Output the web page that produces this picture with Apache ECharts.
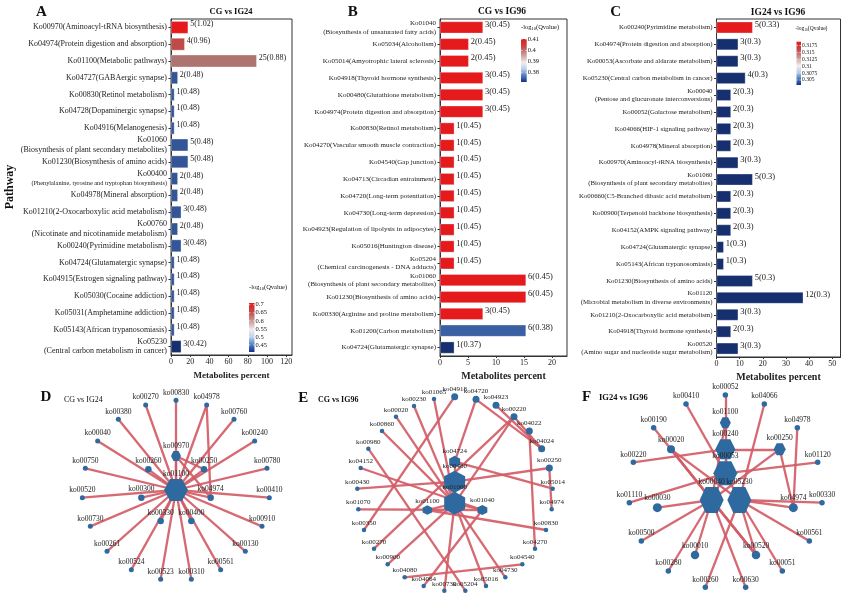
<!DOCTYPE html>
<html><head><meta charset="utf-8">
<script src="https://cdn.jsdelivr.net/npm/echarts@6/dist/echarts.min.js"></script>
<style>html,body{margin:0;padding:0;background:#fff}#c{width:852px;height:603px}</style>
</head><body><div id="c"></div><script>
// ---------------- DATA ----------------
const catA = [
 'Ko00970(Aminoacyl-tRNA biosynthesis)','Ko04974(Protein digestion and absorption)','Ko01100(Metabolic pathways)',
 'Ko04727(GABAergic synapse)','Ko00830(Retinol metabolism)','Ko04728(Dopaminergic synapse)','Ko04916(Melanogenesis)',
 'Ko01060\n(Biosynthesis of plant secondary metabolites)','Ko01230(Biosynthesis of amino acids)',
 'Ko00400\n(Phenylalanine, tyrosine and tryptophan biosynthesis)','Ko04978(Mineral absorption)',
 'Ko01210(2-Oxocarboxylic acid metabolism)','Ko00760\n(Nicotinate and nicotinamide metabolism)',
 'Ko00240(Pyrimidine metabolism)','Ko04724(Glutamatergic synapse)','Ko04915(Estrogen signaling pathway)',
 'Ko05030(Cocaine addiction)','Ko05031(Amphetamine addiction)','Ko05143(African trypanosomiasis)',
 'Ko05230\n(Central carbon metabolism in cancer)'];
const pctA = [17.86,14.29,89.29,7.14,3.57,3.57,3.57,17.86,17.86,7.14,7.14,10.71,7.14,10.71,3.57,3.57,3.57,3.57,3.57,10.71];
const cntA = [5,4,25,2,1,1,1,5,5,2,2,3,2,3,1,1,1,1,1,3];
const qA   = [1.02,0.96,0.88,0.48,0.48,0.48,0.48,0.48,0.48,0.48,0.48,0.48,0.48,0.48,0.48,0.48,0.48,0.48,0.48,0.42];

const catB = [
 'Ko01040\n(Biosynthesis of unsaturated fatty acids)','Ko05034(Alcoholism)','Ko05014(Amyotrophic lateral sclerosis)',
 'Ko04918(Thyroid hormone synthesis)','Ko00480(Glutathione metabolism)','Ko04974(Protein digestion and absorption)',
 'Ko00830(Retinol metabolism)','Ko04270(Vascular smooth muscle contraction)','Ko04540(Gap junction)',
 'Ko04713(Circadian entrainment)','Ko04720(Long-term potentiation)','Ko04730(Long-term depression)',
 'Ko04923(Regulation of lipolysis in adipocytes)','Ko05016(Huntington disease)',
 'Ko05204\n(Chemical carcinogenesis - DNA adducts)','Ko01060\n(Biosynthesis of plant secondary metabolites)',
 'Ko01230(Biosynthesis of amino acids)','Ko00330(Arginine and proline metabolism)','Ko01200(Carbon metabolism)',
 'Ko04724(Glutamatergic synapse)'];
const pctB = [7.69,5.13,5.13,7.69,7.69,7.69,2.56,2.56,2.56,2.56,2.56,2.56,2.56,2.56,2.56,15.38,15.38,7.69,15.38,2.56];
const cntB = [3,2,2,3,3,3,1,1,1,1,1,1,1,1,1,6,6,3,6,1];
const qB   = [0.45,0.45,0.45,0.45,0.45,0.45,0.45,0.45,0.45,0.45,0.45,0.45,0.45,0.45,0.45,0.45,0.45,0.45,0.38,0.37];

const catC = [
 'Ko00240(Pyrimidine metabolism)','Ko04974(Protein digestion and absorption)','Ko00053(Ascorbate and aldarate metabolism)',
 'Ko05230(Central carbon metabolism in cancer)','Ko00040\n(Pentose and glucuronate interconversions)',
 'Ko00052(Galactose metabolism)','Ko04066(HIF-1 signaling pathway)','Ko04978(Mineral absorption)',
 'Ko00970(Aminoacyl-tRNA biosynthesis)','Ko01060\n(Biosynthesis of plant secondary metabolites)',
 'Ko00660(C5-Branched dibasic acid metabolism)','Ko00900(Terpenoid backbone biosynthesis)',
 'Ko04152(AMPK signaling pathway)','Ko04724(Glutamatergic synapse)','Ko05143(African trypanosomiasis)',
 'Ko01230(Biosynthesis of amino acids)','Ko01120\n(Microbial metabolism in diverse environments)',
 'Ko01210(2-Oxocarboxylic acid metabolism)','Ko04918(Thyroid hormone synthesis)',
 'Ko00520\n(Amino sugar and nucleotide sugar metabolism)'];
const pctC = [15.63,9.38,9.38,12.5,6.25,6.25,6.25,6.25,9.38,15.63,6.25,6.25,6.25,3.13,3.13,15.63,37.5,9.38,6.25,9.38];
const cntC = [5,3,3,4,2,2,2,2,3,5,2,2,2,1,1,5,12,3,2,3];
const qC   = [0.33,0.3,0.3,0.3,0.3,0.3,0.3,0.3,0.3,0.3,0.3,0.3,0.3,0.3,0.3,0.3,0.3,0.3,0.3,0.3];

const legTicksA = ['0.7','0.65','0.6','0.55','0.5','0.45'];
const legTicksB = ['0.41','0.4','0.39','0.38'];
const legTicksC = ['0.3175','0.315','0.3125','0.31','0.3075','0.305'];

// network layouts (abstract layout units)
const layoutD = [
 ['ko00830',528,31],['ko00270',437,45],['ko04978',620,45],['ko00380',355,88],['ko00760',702,88],
 ['ko00040',293,153],['ko00240',764,153],['ko00970',528,198],['ko00750',256,235],['ko00260',445,238],
 ['ko00250',612,238],['ko00780',801,235],['ko01100',528,300],['ko00520',247,323],['ko00300',424,323],
 ['ko04974',632,323],['ko00410',808,323],['ko00730',271,409],['ko00330',482,393],['ko00400',574,393],
 ['ko00910',786,409],['ko00261',321,484],['ko00130',736,484],['ko00524',394,539],['ko00561',662,539],
 ['ko00523',482,568],['ko00310',574,568]];
const edgesD = [
 ['ko00830','ko01100'],['ko00270','ko01100'],['ko04978','ko01100'],['ko00380','ko01100'],['ko00760','ko01100'],
 ['ko00040','ko01100'],['ko00240','ko01100'],['ko00970','ko01100'],['ko00750','ko01100'],['ko00260','ko01100'],
 ['ko00250','ko01100'],['ko00780','ko01100'],['ko00520','ko01100'],['ko00300','ko01100'],['ko04974','ko01100'],
 ['ko00410','ko01100'],['ko00730','ko01100'],['ko00330','ko01100'],['ko00400','ko01100'],['ko00910','ko01100'],
 ['ko00261','ko01100'],['ko00130','ko01100'],['ko00524','ko01100'],['ko00561','ko01100'],['ko00523','ko01100'],
 ['ko00310','ko01100'],['ko04978','ko04974'],['ko00970','ko00250'],['ko00970','ko04974']];

const layoutE = [
 ['ko01065',432,27],['ko04918',494,20],['ko04720',558,28],['ko04923',618,46],['ko00230',372,48],
 ['ko00220',672,80],['ko00020',318,80],['ko04022',718,123],['ko00860',276,123],['ko04024',755,176],
 ['ko00980',235,176],['ko04724',494,215],['ko04152',212,234],['ko00250',778,234],['ko00480',494,275],
 ['ko05014',788,296],['ko00430',202,296],['ko01060',494,340],['ko01100',412,360],['ko01040',577,360],
 ['ko01070',205,358],['ko04974',785,358],['ko00350',222,420],['ko00830',768,420],['ko00270',252,476],
 ['ko04270',735,476],['ko00900',293,523],['ko04540',697,523],['ko04080',344,562],['ko04730',646,562],
 ['ko04064',401,588],['ko05016',588,588],['ko00730',463,602],['ko05204',526,602]];
const edgesE = [
 ['ko01065','ko01060'],['ko04918','ko00350'],['ko04720','ko04724'],['ko04720','ko04024'],['ko04923','ko04024'],
 ['ko00220','ko04024'],['ko00220','ko01060'],['ko00220','ko00270'],['ko04022','ko04270'],['ko00230','ko01060'],
 ['ko00020','ko01060'],['ko00860','ko01060'],['ko00980','ko05204'],['ko04152','ko01040'],['ko00430','ko00480'],
 ['ko00250','ko00480'],['ko04724','ko05014'],['ko00250','ko04974'],['ko01070','ko01040'],['ko01100','ko00830'],
 ['ko01100','ko01060'],['ko01040','ko01060'],['ko04724','ko00480'],['ko00480','ko01060'],['ko00900','ko01060'],
 ['ko04080','ko04540'],['ko04064','ko01040'],['ko05016','ko01060'],['ko04730','ko01060'],['ko00730','ko01060']];

const layoutF = [
 ['ko00052',466,15],['ko00410',348,42],['ko04066',583,42],['ko01100',466,98],['ko00190',251,113],
 ['ko04978',682,113],['ko00240',466,178],['ko00020',303,178],['ko00250',629,178],['ko00220',190,217],
 ['ko01120',743,217],['ko00053',466,250],['ko00040',425,330],['ko05230',508,330],['ko01110',178,338],
 ['ko00030',262,353],['ko04974',670,353],['ko00330',756,338],['ko00500',214,453],['ko00561',718,453],
 ['ko00010',375,495],['ko00520',558,495],['ko00280',295,543],['ko00051',637,543],['ko00260',406,592],
 ['ko00630',527,592]];
const edgesF = [
 ['ko00052','ko00053'],['ko00410','ko00053'],['ko04066','ko05230'],['ko01100','ko00040'],['ko00190','ko00520'],
 ['ko04978','ko04974'],['ko00020','ko00040'],['ko00020','ko05230'],['ko00020','ko00520'],['ko00250','ko00240'],
 ['ko00250','ko04974'],['ko00250','ko00040'],['ko00220','ko00240'],['ko01120','ko00053'],['ko01110','ko00053'],
 ['ko00030','ko00040'],['ko04974','ko05230'],['ko00330','ko05230'],['ko00500','ko00040'],['ko00561','ko05230'],
 ['ko00010','ko00040'],['ko00520','ko05230'],['ko00520','ko00040'],['ko00280','ko00040'],['ko00051','ko05230'],
 ['ko00260','ko05230'],['ko00630','ko00040'],['ko00240','ko00053'],['ko00053','ko00040'],['ko00053','ko05230']];

// ---------------- STYLE ----------------
const SERIF = "'Liberation Serif','Times New Roman',serif";
const HEX_FLAT = 'path://M0,50 L25,6.7 L75,6.7 L100,50 L75,93.3 L25,93.3 Z';
const HEX_POINT = 'path://M50,0 L93.3,25 L93.3,75 L50,100 L6.7,75 L6.7,25 Z';
const PAL = ['#16306f','#4670b5','#aac4e2','#f1e6e6','#b88580','#a86a66','#e41a1c'];
const GRAD = [[0,'#e41a1c'],[0.18,'#c44a4a'],[0.38,'#c9a09c'],[0.55,'#f3ecec'],[0.7,'#b9d0ea'],[0.86,'#4a78bd'],[1,'#14308a']];
const NODE = '#2e6a9f', EDGE = '#d25c66';

const sizeD = {ko01100:[HEX_FLAT,[24,22]], ko00970:[HEX_FLAT,[10,10]], ko00260:['circle',6.5], ko00250:['circle',6.5],
  ko00300:['circle',6.5], ko04974:['circle',6.5], ko00330:['circle',6.5], ko00400:['circle',6.5]};
const sizeE = {ko00480:[HEX_POINT,[21,22]], ko01060:[HEX_POINT,[21,23]], ko04724:[HEX_POINT,[11,12]],
  ko01100:[HEX_POINT,[9.5,9.5]], ko01040:[HEX_POINT,[10,10]], ko04918:['circle',7], ko04720:['circle',7],
  ko04923:['circle',7], ko00220:['circle',7], ko04022:['circle',7], ko04024:['circle',7], ko00250:['circle',7]};
const sizeF = {ko00040:[HEX_FLAT,[24,26]], ko05230:[HEX_FLAT,[24,26]], ko00053:[HEX_FLAT,[24,24]], ko00240:[HEX_FLAT,[20,20]],
  ko01100:[HEX_FLAT,[11,11]], ko00250:[HEX_FLAT,[12,12]], ko00020:['circle',8], ko00030:['circle',9], ko04974:['circle',9],
  ko00010:['circle',8.5], ko00520:['circle',8.5]};

const boxes = [
  {left:171, top:19, width:121, height:336, max:126, interval:20, lab:8, cat:catA, pct:pctA, cnt:cntA, q:qA, qmin:0.42, qmax:1.02, name:9, bw:'74%', valFont:8},
  {left:440, top:19, width:127, height:337, max:22.7, interval:5, lab:7, cat:catB, pct:pctB, cnt:cntB, q:qB, qmin:0.37, qmax:0.45, name:10, bw:'70%', valFont:8.5},
  {left:716.5, top:19, width:124, height:338, max:53.6, interval:10, lab:6.8, cat:catC, pct:pctC, cnt:cntC, q:qC, qmin:0.30, qmax:0.33, name:10, bw:'68%', valFont:8.5}
];

const grid = [], xAxis = [], yAxis = [], series = [], visualMap = [];
boxes.forEach((b, i) => {
  grid.push({left:b.left, top:b.top, width:b.width, height:b.height, show:true, borderColor:'#333', borderWidth:1});
  xAxis.push({gridIndex:i, type:'value', min:0, max:b.max, interval:b.interval,
    name:'Metabolites percent', nameLocation:'middle', nameGap:14,
    nameTextStyle:{fontFamily:SERIF, fontWeight:'bold', fontSize:b.name, color:'#222'},
    axisLine:{show:true, lineStyle:{color:'#333'}}, axisTick:{show:true, length:2, lineStyle:{color:'#333'}},
    axisLabel:{fontFamily:SERIF, fontSize:8, color:'#222', margin:3, showMaxLabel:false}, splitLine:{show:false}});
  yAxis.push({gridIndex:i, type:'category', inverse:true, data:b.cat,
    axisLine:{show:true, lineStyle:{color:'#333'}}, axisTick:{show:true, length:2.5, alignWithLabel:true, lineStyle:{color:'#333'}},
    axisLabel:{fontFamily:SERIF, fontSize:b.lab, color:'#222', margin:4, lineHeight:b.lab+1.5, interval:0,
      formatter: v => v.startsWith('Ko00400\n') ? v.replace('\n', '\n{s|') + '}' : v,
      rich:{s:{fontFamily:SERIF, fontSize:6.3, color:'#222'}}}});
  series.push({type:'bar', xAxisIndex:i, yAxisIndex:i, barWidth:b.bw,
    data:b.pct.map((p, k) => [p, k, b.q[k], b.cnt[k]]), encode:{x:0, y:1},
    itemStyle:{borderColor:'rgba(255,255,255,0.6)', borderWidth:0.5},
    label:{show:true, position:'right', distance:2, offset:[0,-3], fontFamily:SERIF, fontSize:b.valFont, color:'#222',
      formatter: p => p.data[3] + '(' + p.data[2] + ')'}});
  visualMap.push({type:'continuous', show:false, seriesIndex:i, dimension:2, min:b.qmin, max:b.qmax, inRange:{color:PAL}});
});

// graph panels
const gpanels = [
  {left:0, top:390, width:290, height:213, xmax:870, layout:layoutD, edges:edgesD, sizes:sizeD, small:5, font:7.5},
  {left:290, top:390, width:280, height:213, xmax:840, layout:layoutE, edges:edgesE, sizes:sizeE, small:4.5, font:7},
  {left:570, top:390, width:282, height:213, xmax:846, layout:layoutF, edges:edgesF, sizes:sizeF, small:5.5, font:7.5}
];
gpanels.forEach((g, j) => {
  const i = 3 + j;
  grid.push({left:g.left, top:g.top, width:g.width, height:g.height, show:false});
  xAxis.push({gridIndex:i, type:'value', min:0, max:g.xmax, show:false});
  yAxis.push({gridIndex:i, type:'value', min:0, max:639, inverse:true, show:false});
  series.push({type:'graph', layout:'none', coordinateSystem:'cartesian2d', xAxisIndex:i, yAxisIndex:i, silent:true,
    data:g.layout.map(([n, x, y]) => {
      const s = g.sizes[n] || ['circle', g.small];
      return {name:n, value:[x, y], symbol:s[0], symbolSize:s[1]};
    }),
    links:g.edges.map(([a, b]) => ({source:a, target:b})),
    itemStyle:{color:NODE},
    lineStyle:{color:EDGE, width:2.3, opacity:0.92, curveness:0},
    label:{show:true, position:'top', distance:1, fontFamily:SERIF, fontSize:g.font, color:'#222'}});
});

// ---------------- GRAPHICS (titles, legends) ----------------
const gfx = [];
function txt(x, y, t, size, opt = {}) {
  gfx.push({type:'text', x, y, rotation:opt.rot || 0, silent:true,
    style:{text:t, fontFamily:SERIF, fontSize:size, fontWeight:opt.bold ? 'bold' : 'normal', fill:'#111',
      align:opt.align || 'center', verticalAlign:'middle', rich:opt.rich}});
}
txt(41.5, 12, 'A', 15, {bold:true}); txt(231, 12, 'CG vs IG24', 8.5, {bold:true});
txt(352.7, 12, 'B', 15, {bold:true}); txt(502, 12, 'CG vs IG96', 9.5, {bold:true});
txt(615.7, 12, 'C', 15, {bold:true}); txt(778, 13, 'IG24 vs IG96', 9.5, {bold:true});
txt(10, 187, 'Pathway', 12, {bold:true, rot:Math.PI / 2});
txt(46, 397, 'D', 15, {bold:true}); txt(64, 399.5, 'CG vs IG24', 8, {align:'left'});
txt(303.3, 398.5, 'E', 15, {bold:true}); txt(318, 399.5, 'CG vs IG96', 8, {align:'left', bold:true});
txt(586.7, 397, 'F', 15, {bold:true}); txt(599, 397.5, 'IG24 vs IG96', 8.5, {align:'left', bold:true});

function legend(tx, ty, bx, by, bw, bh, ticks, t0, t1, size) {
  const rich = {sub:{fontSize:size - 2, fontFamily:SERIF, fill:'#111', padding:[3, 0, 0, 0]}, n:{fontSize:size, fontFamily:SERIF, fill:'#111'}};
  gfx.push({type:'text', x:tx, y:ty, silent:true,
    style:{text:'{n|-log}{sub|10}{n|(Qvalue)}', rich, align:'left', verticalAlign:'middle'}});
  gfx.push({type:'rect', silent:true, shape:{x:bx, y:by, width:bw, height:bh},
    style:{fill:new echarts.graphic.LinearGradient(0, 0, 0, 1, GRAD.map(([o, c]) => ({offset:o, color:c})))}});
  ticks.forEach((t, k) => {
    const y = t0 + (t1 - t0) * k / (ticks.length - 1);
    gfx.push({type:'line', silent:true, shape:{x1:bx, y1:y, x2:bx + 1.5, y2:y}, style:{stroke:'#fff', lineWidth:0.6}});
    gfx.push({type:'line', silent:true, shape:{x1:bx + bw - 1.5, y1:y, x2:bx + bw, y2:y}, style:{stroke:'#fff', lineWidth:0.6}});
    gfx.push({type:'text', x:bx + bw + 1, y, silent:true,
      style:{text:t, fontFamily:SERIF, fontSize:size, fill:'#111', align:'left', verticalAlign:'middle'}});
  });
}
legend(249, 287, 249, 303, 5.5, 49, legTicksA, 304.7, 345, 6.5);
legend(521, 27, 521, 39, 5.7, 43, legTicksB, 39.3, 72.7, 6.5);
legend(795.5, 29, 796.5, 41.7, 4.5, 43.3, legTicksC, 45.5, 80, 5.5);

const chart = echarts.init(document.getElementById('c'), null, {width:852, height:603});
chart.setOption({animation:false, backgroundColor:'#fff', grid, xAxis, yAxis, series, visualMap, graphic:gfx});
</script></body></html>
